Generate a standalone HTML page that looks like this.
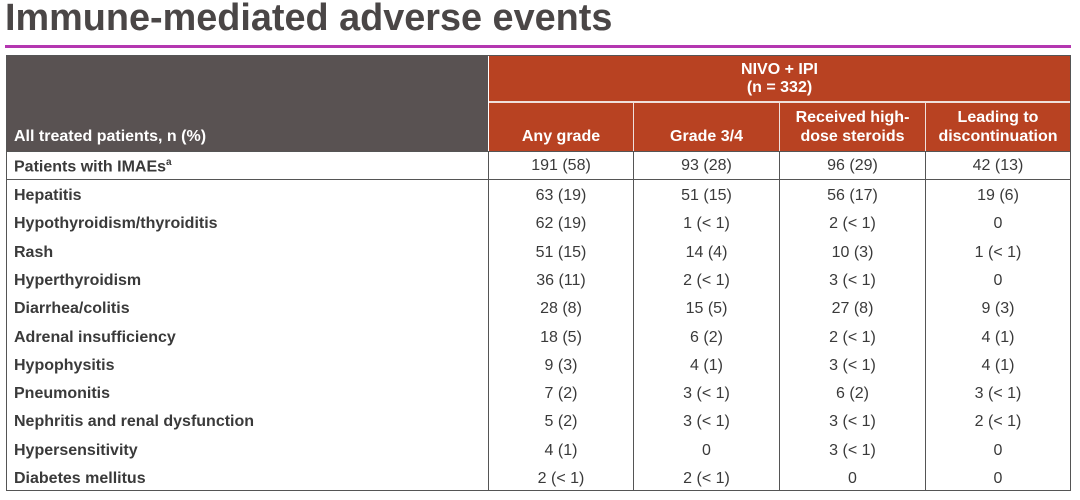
<!DOCTYPE html>
<html><head><meta charset="utf-8"><style>
*{margin:0;padding:0;box-sizing:border-box}
body{width:1080px;height:500px;background:#fff;position:relative;overflow:hidden;font-family:"Liberation Sans",sans-serif;color:#3a3a3a}
.t{position:absolute;left:5px;top:-3px;font-size:38px;font-weight:bold;color:#4a4646;white-space:nowrap;transform-origin:0 0;font-family:"Liberation Sans",sans-serif}
.pl{position:absolute;left:5px;top:45px;width:1066px;height:3px;background:#b437b0}
.a{position:absolute}
.c{position:absolute;font-size:16px;white-space:nowrap;text-align:center}
.l{position:absolute;font-size:16px;font-weight:bold;white-space:nowrap;left:14px}
</style></head><body>
<div class="t" id="tt">Immune-mediated adverse events</div>
<div class="pl"></div>
<div class="a" style="left:6px;top:55px;width:1065px;height:436px;border:1px solid #555"></div>
<div class="a" style="left:7px;top:56px;width:481px;height:95px;background:#595252"></div>
<div class="a" style="left:489px;top:56px;width:581px;height:95px;background:#b84222"></div>
<div class="a" style="left:489px;top:101px;width:581px;height:2px;background:#f0e0dc"></div>
<div class="a" style="left:633px;top:103px;width:1px;height:48px;background:#f0e0dc"></div>
<div class="a" style="left:779px;top:103px;width:1px;height:48px;background:#f0e0dc"></div>
<div class="a" style="left:925px;top:103px;width:1px;height:48px;background:#f0e0dc"></div>
<div class="a" style="left:488px;top:151px;width:1px;height:340px;background:#555"></div>
<div class="a" style="left:633px;top:151px;width:1px;height:340px;background:#555"></div>
<div class="a" style="left:779px;top:151px;width:1px;height:340px;background:#555"></div>
<div class="a" style="left:925px;top:151px;width:1px;height:340px;background:#555"></div>
<div class="a" style="left:6px;top:179px;width:1065px;height:1px;background:#555"></div>
<div class="a" style="left:6px;top:151px;width:1065px;height:1px;background:#555"></div>
<div class="c" style="left:489px;width:581px;top:61px;color:#fff;font-weight:bold;line-height:18px">NIVO + IPI<br>(n = 332)</div>
<div class="l" style="top:128px;color:#fff">All treated patients, n (%)</div>
<div class="c" style="left:489px;width:144px;top:128px;color:#fff;font-weight:bold">Any grade</div>
<div class="c" style="left:634px;width:145px;top:128px;color:#fff;font-weight:bold">Grade 3/4</div>
<div class="c" style="left:780px;width:145px;top:108px;color:#fff;font-weight:bold;line-height:19px">Received high-<br>dose steroids</div>
<div class="c" style="left:926px;width:144px;top:108px;color:#fff;font-weight:bold;line-height:19px">Leading to<br>discontinuation</div>
<div id="rows"></div>
<script>
var R=[["Patients with IMAEs<sup style='font-size:10px'>a</sup>","191 (58)","93 (28)","96 (29)","42 (13)"],
["Hepatitis","63 (19)","51 (15)","56 (17)","19 (6)"],
["Hypothyroidism/thyroiditis","62 (19)","1 (< 1)","2 (< 1)","0"],
["Rash","51 (15)","14 (4)","10 (3)","1 (< 1)"],
["Hyperthyroidism","36 (11)","2 (< 1)","3 (< 1)","0"],
["Diarrhea/colitis","28 (8)","15 (5)","27 (8)","9 (3)"],
["Adrenal insufficiency","18 (5)","6 (2)","2 (< 1)","4 (1)"],
["Hypophysitis","9 (3)","4 (1)","3 (< 1)","4 (1)"],
["Pneumonitis","7 (2)","3 (< 1)","6 (2)","3 (< 1)"],
["Nephritis and renal dysfunction","5 (2)","3 (< 1)","3 (< 1)","2 (< 1)"],
["Hypersensitivity","4 (1)","0","3 (< 1)","0"],
["Diabetes mellitus","2 (< 1)","2 (< 1)","0","0"]];
var X=[[489,144],[634,145],[780,145],[926,144]],h="";
R.forEach(function(r,i){var y=i==0?157:187+(i-1)*28.3;
h+='<div class="l" style="top:'+y+'px">'+r[0]+'</div>';
for(var j=0;j<4;j++)h+='<div class="c" style="left:'+X[j][0]+'px;width:'+X[j][1]+'px;top:'+y+'px">'+r[j+1].replace(/</g,"&lt;")+'</div>';});
document.getElementById('rows').innerHTML=h;
var t=document.getElementById('tt');t.style.transform='scaleX('+(607/t.offsetWidth)+')';
</script>
</body></html>
